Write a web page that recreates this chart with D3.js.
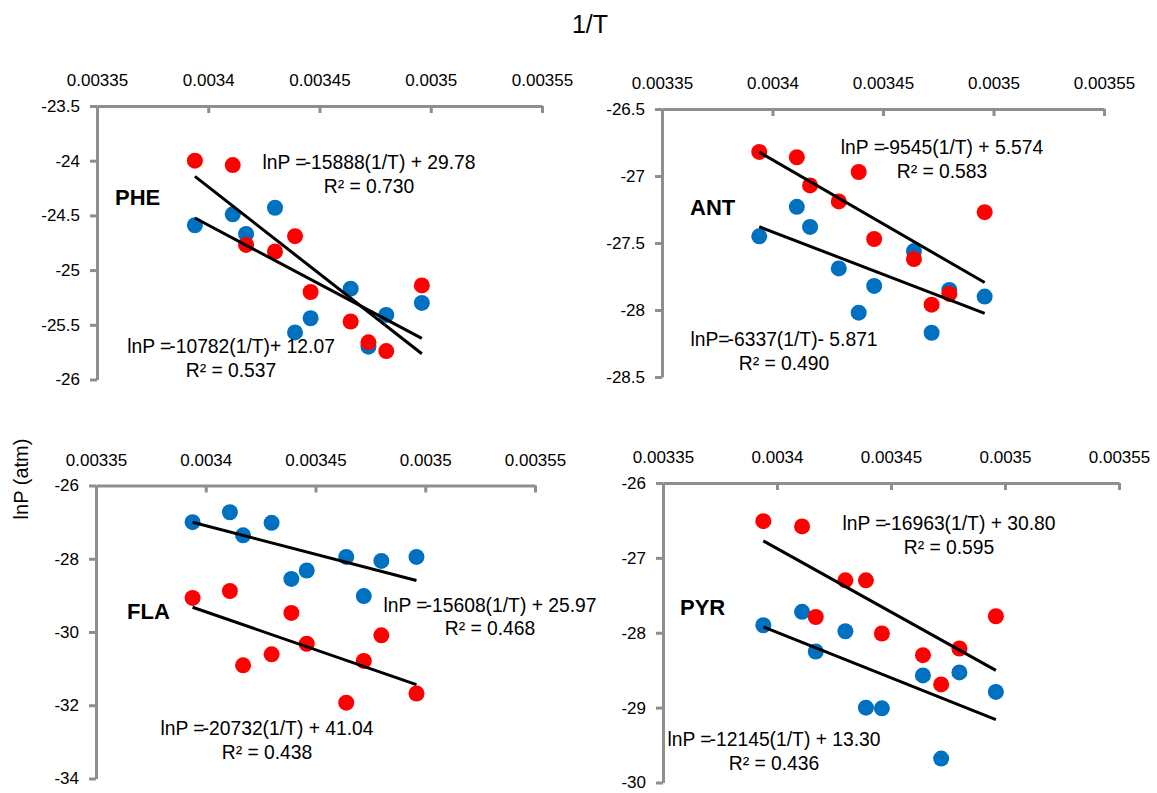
<!DOCTYPE html>
<html>
<head>
<meta charset="utf-8">
<script src="https://cdn.jsdelivr.net/npm/d3@7"></script>
<style>
  html, body { margin: 0; padding: 0; background: #fff; }
  svg { display: block; font-family: "Liberation Sans", Arial, Helvetica, sans-serif; }
</style>
</head>
<body>
<script>
// Reciprocal temperature (1/K) shared by every compound
const invT = [0.003394, 0.003411, 0.003417, 0.003430, 0.003439, 0.003446, 0.003464, 0.003472, 0.003480, 0.003496];

// lnP (atm) per compound, two series each
const pheBlue = [-24.59, -24.49, -24.67, -24.43, -25.57, -25.44, -25.17, -25.70, -25.41, -25.30];
const pheRed  = [-24.00, -24.04, -24.77, -24.83, -24.69, -25.20, -25.47, -25.66, -25.74, -25.14];
const antBlue = [-27.45, -27.23, -27.38, -27.69, -28.02, -27.82, -27.56, -28.17, -27.85, -27.90];
const antRed  = [-26.82, -26.86, -27.07, -27.19, -26.97, -27.47, -27.62, -27.96, -27.88, -27.27];
const flaBlue = [-27.00, -26.73, -27.36, -27.02, -28.55, -28.32, -27.95, -29.02, -28.06, -27.95];
const flaRed  = [-29.07, -28.88, -30.91, -30.61, -29.48, -30.32, -31.93, -30.79, -30.09, -31.68];
const pyrBlue = [-27.90, -27.72, -28.25, -27.98, -29.00, -29.01, -28.57, -29.68, -28.53, -28.79];
const pyrRed  = [-26.51, -26.58, -27.79, -27.30, -27.30, -28.01, -28.30, -28.69, -28.21, -27.78];

// Linear fits [slope, intercept] and their printed forms
const pheRedFit  = [-15888, 29.78];
const pheBlueFit = [-10782, 12.07];
const antRedFit  = [-9545, 5.574];
const antBlueFit = [-6337, -5.871];
const flaBlueFit = [-15608, 25.97];
const flaRedFit  = [-20732, 41.04];
const pyrRedFit  = [-16963, 30.80];
const pyrBlueFit = [-12145, 13.30];

const pheRedEq  = ["lnP =", "-15888(1/T) + 29.78", "R² = 0.730"];
const pheBlueEq = ["lnP =", "-10782(1/T)+ 12.07", "R² = 0.537"];
const antRedEq  = ["lnP =", "-9545(1/T) + 5.574", "R² = 0.583"];
const antBlueEq = ["lnP=", "-6337(1/T)- 5.871", "R² = 0.490"];
const flaBlueEq = ["lnP =", "-15608(1/T) + 25.97", "R² = 0.468"];
const flaRedEq  = ["lnP =", "-20732(1/T) + 41.04", "R² = 0.438"];
const pyrRedEq  = ["lnP =", "-16963(1/T) + 30.80", "R² = 0.595"];
const pyrBlueEq = ["lnP =", "-12145(1/T) + 13.30", "R² = 0.436"];

// Axis ticks
const xTicks = [0.00335, 0.0034, 0.00345, 0.0035, 0.00355];
const xTickLabels = ["0.00335", "0.0034", "0.00345", "0.0035", "0.00355"];
const pheTicks = [-26, -25.5, -25, -24.5, -24, -23.5];
const antTicks = [-28.5, -28, -27.5, -27, -26.5];
const flaTicks = [-34, -32, -30, -28, -26];
const pyrTicks = [-30, -29, -28, -27, -26];

const RED = "#ff0000", BLUE = "#0070c0", AXIS = "#8e8e8e";

const W = 1157, H = 793;
const svg = d3.select("body").append("svg").attr("width", W).attr("height", H);

const panels = [
  { name: "PHE", blue: pheBlue, red: pheRed, ticks: pheTicks, redFit: pheRedFit, blueFit: pheBlueFit,
    redEq: pheRedEq, blueEq: pheBlueEq,
    px: [97, 542], py: [379.5, 106],
    namePos: [115, 205], redPos: [369, 169], bluePos: [231, 353], eqSize: 19.3 },
  { name: "ANT", blue: antBlue, red: antRed, ticks: antTicks, redFit: antRedFit, blueFit: antBlueFit,
    redEq: antRedEq, blueEq: antBlueEq,
    px: [662, 1104], py: [377, 109],
    namePos: [690, 215], redPos: [942, 154], bluePos: [784, 346], eqSize: 19.3 },
  { name: "FLA", blue: flaBlue, red: flaRed, ticks: flaTicks, redFit: flaRedFit, blueFit: flaBlueFit,
    redEq: flaRedEq, blueEq: flaBlueEq,
    px: [96, 535], py: [778.5, 485.5],
    namePos: [127, 619], redPos: [267, 735], bluePos: [490, 611.5], eqSize: 19.3 },
  { name: "PYR", blue: pyrBlue, red: pyrRed, ticks: pyrTicks, redFit: pyrRedFit, blueFit: pyrBlueFit,
    redEq: pyrRedEq, blueEq: pyrBlueEq,
    px: [663, 1119], py: [782.5, 483],
    namePos: [680, 615], redPos: [949, 530], bluePos: [774, 746], eqSize: 19.3 }
];

panels.forEach(p => {
  const x = d3.scaleLinear().domain([xTicks[0], xTicks[xTicks.length - 1]]).range(p.px);
  const y = d3.scaleLinear().domain([p.ticks[0], p.ticks[p.ticks.length - 1]]).range(p.py);
  const g = svg.append("g");

  // Horizontal axis sits along the top of the panel, ticks pointing inward
  const xAxis = d3.axisTop(x)
    .tickValues(xTicks)
    .tickFormat((d, i) => xTickLabels[i])
    .tickSizeInner(-7)
    .tickSizeOuter(0)
    .tickPadding(20);
  const gx = g.append("g").attr("transform", `translate(0,${p.py[1]})`).call(xAxis);

  const yAxis = d3.axisLeft(y)
    .tickValues(p.ticks)
    .tickFormat(d => String(d))
    .tickSizeInner(7)
    .tickSizeOuter(0)
    .tickPadding(10);
  const gy = g.append("g").attr("transform", `translate(${p.px[0]},0)`).call(yAxis);

  [gx, gy].forEach(a => {
    a.select(".domain").attr("stroke", AXIS).attr("stroke-width", 3);
    a.selectAll(".tick line").attr("stroke", AXIS).attr("stroke-width", 3);
    a.selectAll(".tick text").attr("fill", "#000").style("font-size", "17px")
      .style("font-family", '"Liberation Sans", Arial, sans-serif');
  });
  gx.selectAll(".tick line").attr("stroke-linecap", "butt");

  // Points: blue series first, red drawn over it
  const pts = (vals, color) => g.append("g").selectAll("circle")
    .data(vals.map((v, i) => [invT[i], v]))
    .join("circle")
    .attr("cx", d => x(d[0]))
    .attr("cy", d => y(d[1]))
    .attr("r", 8)
    .attr("fill", color);
  pts(p.blue, BLUE);
  pts(p.red, RED);

  // Least-squares lines over the sampled range
  const xs = d3.extent(invT);
  const line = d3.line().x(d => x(d[0])).y(d => y(d[1]));
  [p.redFit, p.blueFit].forEach(f => {
    g.append("path")
      .datum(xs.map(t => [t, f[0] * t + f[1]]))
      .attr("d", line)
      .attr("fill", "none")
      .attr("stroke", "#000")
      .attr("stroke-width", 3);
  });

  // Compound name
  g.append("text")
    .attr("x", p.namePos[0]).attr("y", p.namePos[1])
    .style("font-size", "22px").style("font-weight", "bold")
    .text(p.name);

  // Fit equations
  const eq = (e, pos) => {
    const t = g.append("text")
      .attr("x", pos[0]).attr("y", pos[1])
      .attr("text-anchor", "middle")
      .style("font-size", p.eqSize + "px");
    t.append("tspan").text(e[0]);
    t.append("tspan").attr("dx", -2).text(e[1]);
    g.append("text")
      .attr("x", pos[0]).attr("y", pos[1] + 23.5)
      .attr("text-anchor", "middle")
      .style("font-size", p.eqSize + "px")
      .text(e[2]);
  };
  eq(p.redEq, p.redPos);
  eq(p.blueEq, p.bluePos);
});

// Shared titles
svg.append("text")
  .attr("x", 590).attr("y", 33)
  .attr("text-anchor", "middle")
  .style("font-size", "25px")
  .text("1/T");

svg.append("text")
  .attr("transform", "translate(21,479) rotate(-90)")
  .attr("text-anchor", "middle")
  .attr("dominant-baseline", "central")
  .style("font-size", "20px")
  .text("lnP (atm)");
</script>
</body>
</html>
